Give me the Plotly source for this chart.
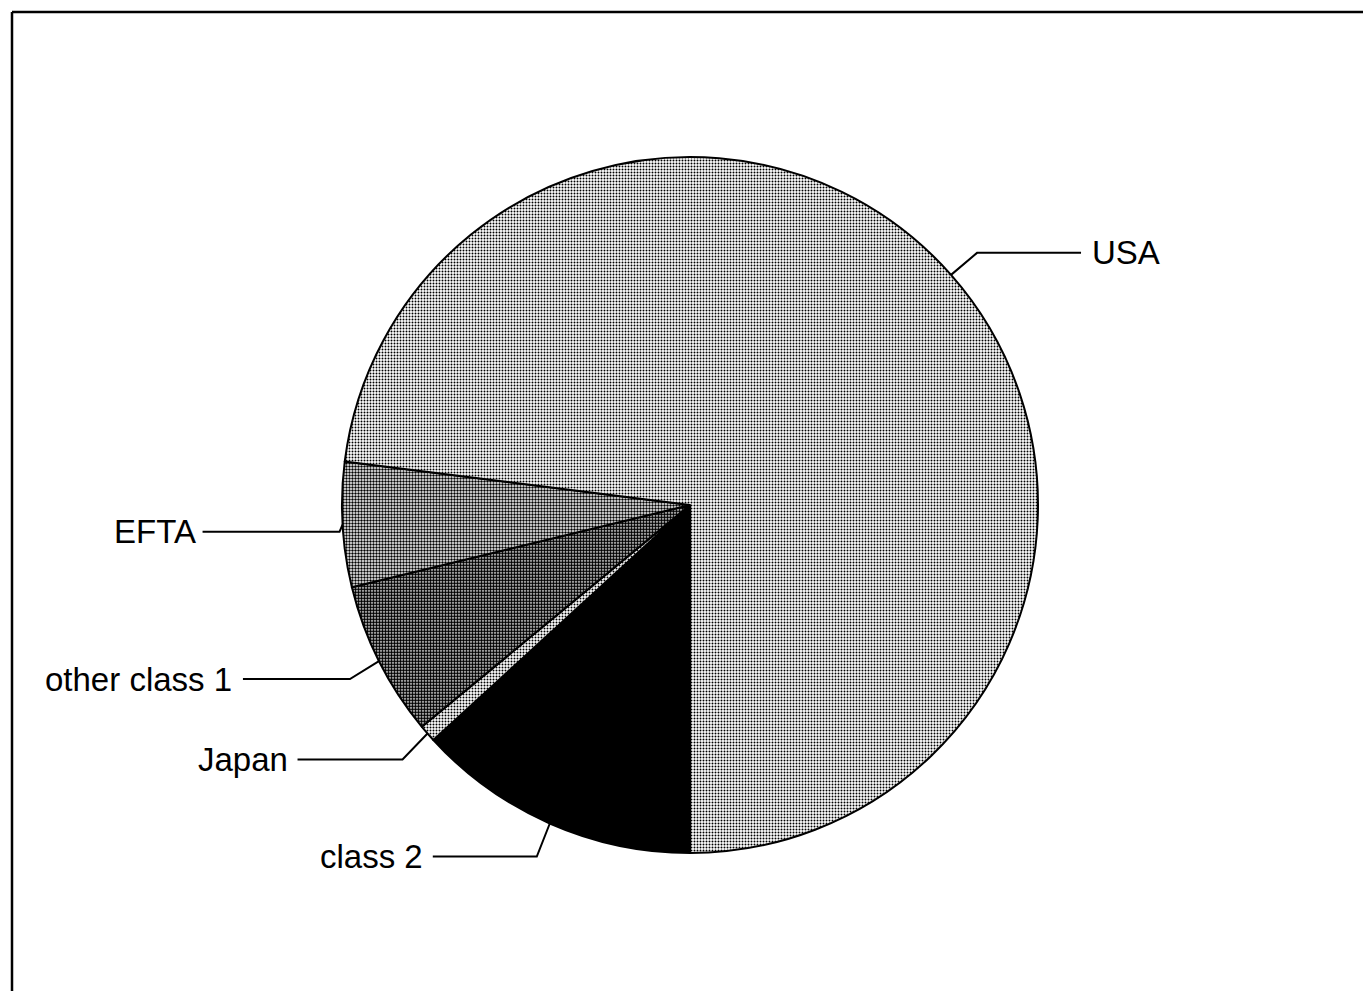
import math
import plotly.graph_objects as go

# ---- data (shares, %), clockwise from 6 o'clock ----
labels = ["class 2", "Japan", "other class 1", "EFTA", "USA"]
values = [13.2, 0.8, 7.2, 5.8, 73.0]

# ---- style / layout ----
W, H = 1363, 991
CX, CY, R = 690, 505, 348          # pie centre and radius in pixels
START_ANGLE = 180                  # first slice starts at 6 o'clock
slice_colors = ["#000000", "#bdbdbd", "#5e5e5e", "#8e8e8e", "#c4c4c4"]
pattern_shapes = ["", ".", ".", ".", "."]
pattern_solidity = [1.0, 0.36, 0.7, 0.5, 0.33]
# leader line: (elbow dx, elbow dy, horizontal length), text side
leader_style = {
    "USA": (26, -22, 104, "left"),
    "EFTA": (-3, 7, 137, "right"),
    "other class 1": (-29, 18, 107, "right"),
    "Japan": (-25, 26, 105, "right"),
    "class 2": (-13, 33, 104, "right"),
}
label_gap = {"USA": 9, "EFTA": 5, "other class 1": 9, "Japan": 8, "class 2": 8}
FONT = "Liberation Sans, Arial, Helvetica, sans-serif"


def px(x, y):
    return x / W, 1 - y / H


fig = go.Figure()
fig.add_trace(go.Pie(
    labels=labels,
    values=values,
    sort=False,
    direction="clockwise",
    rotation=START_ANGLE,
    textinfo="none",
    hoverinfo="label+percent",
    marker=dict(
        colors=slice_colors,
        line=dict(color="black", width=2),
        pattern=dict(shape=pattern_shapes, fgcolor="black", bgcolor="white",
                     size=3, solidity=pattern_solidity, fillmode="replace"),
    ),
    domain=dict(x=[(CX - R) / W, (CX + R) / W], y=[1 - (CY + R) / H, 1 - (CY - R) / H]),
    showlegend=False,
))

shapes = []
annotations = []
total = sum(values)
cum = 0.0
for lab, v in zip(labels, values):
    mid = START_ANGLE + 360.0 * (cum + v / 2) / total
    cum += v
    a = math.radians(mid)
    ex, ey = CX + R * math.sin(a), CY - R * math.cos(a)
    dx, dy, length, side = leader_style[lab]
    bx, by = ex + dx, ey + dy
    tx = bx + length if side == "left" else bx - length
    p0, p1, p2 = px(ex, ey), px(bx, by), px(tx, by)
    shapes.append(dict(
        type="path", xref="paper", yref="paper",
        path=f"M {p0[0]} {p0[1]} L {p1[0]} {p1[1]} L {p2[0]} {p2[1]}",
        line=dict(color="black", width=2),
    ))
    gap = label_gap[lab]
    ax = tx + gap if side == "left" else tx - gap
    annotations.append(dict(
        x=ax / W, y=1 - by / H, xref="paper", yref="paper",
        text=lab, showarrow=False,
        xanchor=side, yanchor="middle",
        font=dict(family=FONT, size=33, color="black"),
    ))

# page frame (top and left edges)
shapes.append(dict(type="line", xref="paper", yref="paper",
                   x0=12 / W, y0=1 - 12 / H, x1=1.0, y1=1 - 12 / H,
                   line=dict(color="black", width=2.5)))
shapes.append(dict(type="line", xref="paper", yref="paper",
                   x0=12 / W, y0=1 - 12 / H, x1=12 / W, y1=0.0,
                   line=dict(color="black", width=2.5)))

fig.update_layout(
    width=W, height=H,
    margin=dict(l=0, r=0, t=0, b=0),
    paper_bgcolor="white",
    plot_bgcolor="white",
    shapes=shapes,
    annotations=annotations,
)

fig.write_html("out.html", config={"displayModeBar": False},
               post_script="document.body.style.margin='0';")
